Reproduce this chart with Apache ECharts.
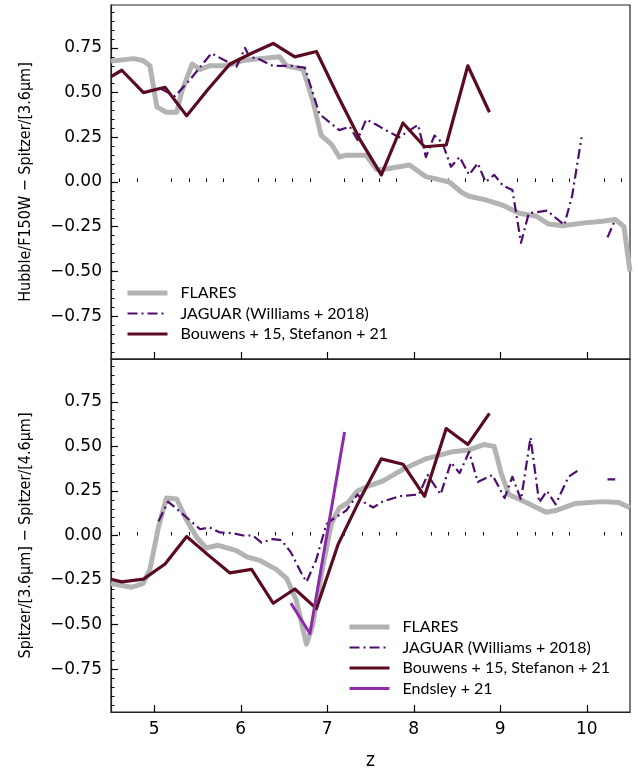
<!DOCTYPE html>
<html>
<head>
<meta charset="utf-8">
<script src="https://cdn.jsdelivr.net/npm/echarts@6/dist/echarts.min.js"></script>
<style>
html,body{margin:0;padding:0;background:#fff;}
#chart{width:638px;height:772px;}
</style>
</head>
<body>
<div id="chart"></div>
<script>
// ---------- Data ----------
const seriesNames = ['FLARES', 'JAGUAR (Williams + 2018)', 'Bouwens + 15, Stefanon + 21', 'Endsley + 21'];

// Top panel: Hubble/F150W - Spitzer/[3.6um]
const flaresTopZ = [4.5,4.76,4.87,4.95,5.03,5.14,5.26,5.32,5.44,5.53,5.64,5.84,6.03,6.22,6.45,6.53,6.72,6.83,6.93,7.05,7.14,7.22,7.45,7.57,7.64,7.95,8.14,8.41,8.56,8.64,8.83,9.03,9.22,9.41,9.56,9.72,9.95,10.18,10.33,10.43,10.5];
const flaresTopV = [0.676,0.69,0.68,0.65,0.42,0.39,0.39,0.51,0.66,0.63,0.65,0.65,0.68,0.69,0.70,0.65,0.63,0.46,0.26,0.21,0.14,0.15,0.15,0.07,0.07,0.095,0.03,0.0,-0.06,-0.08,-0.10,-0.13,-0.175,-0.19,-0.235,-0.245,-0.23,-0.22,-0.21,-0.25,-0.5];

const jaguarTopZ = [5.08,5.24,5.41,5.51,5.66,5.95,6.05,6.10,6.20,6.37,6.57,6.74,6.91,7.14,7.26,7.35,7.45,7.57,7.64,7.83,8.05,8.14,8.24,8.33,8.43,8.53,8.64,8.74,8.83,8.93,9.03,9.14,9.24,9.33,9.54,9.74,9.83,9.94,10.1,10.24,10.33];
const jaguarTopV = [0.52,0.48,0.57,0.63,0.72,0.645,0.75,0.70,0.69,0.65,0.65,0.64,0.38,0.29,0.31,0.235,0.35,0.32,0.30,0.25,0.32,0.14,0.26,0.22,0.085,0.14,0.04,0.105,0.0,0.04,-0.02,-0.045,-0.34,-0.175,-0.16,-0.24,-0.08,0.25,null,-0.31,-0.21];

const bouwensZ = [4.5,4.625,4.875,5.125,5.375,5.625,5.875,6.125,6.375,6.625,6.875,7.125,7.375,7.625,7.875,8.125,8.375,8.625,8.875];
const bouwensTopV = [0.59,0.625,0.50,0.53,0.37,0.52,0.66,0.72,0.775,0.70,0.73,0.48,0.24,0.04,0.33,0.197,0.207,0.65,0.39];

// Bottom panel: Spitzer/[3.6um] - Spitzer/[4.6um]
const flaresBotZ = [4.5,4.74,4.87,4.95,5.05,5.14,5.26,5.37,5.49,5.60,5.74,5.95,6.07,6.22,6.41,6.53,6.64,6.76,6.83,6.95,7.05,7.14,7.24,7.35,7.49,7.64,7.87,8.14,8.45,8.64,8.81,8.93,9.01,9.10,9.30,9.53,9.64,9.87,10.18,10.37,10.5];
const flaresBotV = [-0.27,-0.29,-0.27,-0.19,0.05,0.21,0.205,0.09,-0.01,-0.07,-0.055,-0.085,-0.12,-0.14,-0.19,-0.24,-0.36,-0.61,-0.505,-0.17,0.07,0.155,0.185,0.25,0.28,0.305,0.37,0.43,0.47,0.48,0.51,0.50,0.35,0.23,0.185,0.13,0.14,0.18,0.19,0.185,0.155];

const jaguarBotZ = [5.05,5.16,5.33,5.53,5.64,5.76,5.91,6.03,6.14,6.24,6.37,6.47,6.58,6.70,6.76,6.87,6.99,7.06,7.22,7.35,7.43,7.53,7.64,7.83,8.06,8.16,8.31,8.43,8.53,8.64,8.74,8.91,9.05,9.14,9.24,9.35,9.45,9.54,9.64,9.79,9.93,10.1,10.24,10.33];
const jaguarBotV = [0.08,0.19,0.12,0.035,0.045,0.017,0.013,0.0,0.0,-0.04,-0.02,-0.026,-0.095,-0.21,-0.26,-0.14,0.063,0.09,0.14,0.23,0.185,0.157,0.19,0.22,0.23,0.34,0.23,0.41,0.35,0.47,0.30,0.34,0.21,0.33,0.20,0.55,0.185,0.25,0.175,0.33,0.375,null,0.315,0.315];

const bouwensBotV = [-0.245,-0.26,-0.245,-0.16,-0.006,-0.11,-0.21,-0.19,-0.38,-0.30,-0.41,-0.05,0.2,0.43,0.40,0.22,0.60,0.51,0.685];

const endsleyZ = [6.58,6.80,7.20];
const endsleyV = [-0.38,-0.55,0.58];

// Tick labels
const xMajorTicks = [5,6,7,8,9,10];
const yMajorTicks = [-0.75,-0.5,-0.25,0,0.25,0.5,0.75];

// ---------- Helpers ----------
function pairs(zs, vs){ return zs.map((z,i)=>[z, vs[i]]); }
const xMinorTicks = [];
for (let k = 23; k <= 52; k++){ const v = Math.round(k*0.2*100)/100; if (Math.abs(v - Math.round(v)) > 1e-6) xMinorTicks.push(v); }
const yMinorTicks = [];
for (let k = -19; k <= 19; k++){ const v = Math.round(k*0.05*100)/100; if (Math.abs(v/0.25 - Math.round(v/0.25)) > 1e-6) yMinorTicks.push(v); }

function fmtY(v){ const s = Math.abs(v).toFixed(2); return v < -1e-9 ? '\u2212' + s : s; }

const colors = { flares:'#b3b3b3', jaguar:'#4d0f6e', bouwens:'#5a0b20', endsley:'#8e2bab' };
const tickFont = { fontFamily:'DejaVu Sans', fontSize:17, color:'#000' };
const titleFont = "'Liberation Sans Narrow','DejaVu Sans Condensed','Roboto Condensed',sans-serif";

const grids = [
  { left:111, right:8, top:5, height:354, show:true, borderColor:'#222', borderWidth:1.2 },
  { left:111, right:8, top:359, height:354, show:true, borderColor:'#222', borderWidth:1.2 }
];

function xAxes(gi, showLabels){
  return [
    { type:'value', gridIndex:gi, min:4.5, max:10.5, position:'bottom',
      axisLine:{show:true, onZero:false, lineStyle:{color:'#222', width:1.2}},
      axisTick:{show:true, inside:true, length:7, customValues:xMajorTicks, lineStyle:{color:'#000', width:1.2}},
      axisLabel:{show:showLabels, customValues:xMajorTicks, margin:9, ...tickFont},
      splitLine:{show:false},
      name: showLabels ? 'z' : '', nameLocation:'middle', nameGap:40,
      nameTextStyle:{fontFamily:titleFont, fontSize:19, color:'#000'} },
    { type:'value', gridIndex:gi, min:4.5, max:10.5, position:'bottom',
      axisLine:{show:false},
      axisTick:{show:true, inside:true, length:3.5, customValues:xMinorTicks, lineStyle:{color:'#000', width:1}},
      axisLabel:{show:false}, splitLine:{show:false} }
  ];
}
function yAxes(gi, title){
  return [
    { type:'value', gridIndex:gi, min:-0.99, max:0.99, position:'left',
      axisLine:{show:true, onZero:false, lineStyle:{color:'#222', width:1.2}},
      axisTick:{show:true, inside:true, length:7, customValues:yMajorTicks, lineStyle:{color:'#000', width:1.2}},
      axisLabel:{show:true, customValues:yMajorTicks, margin:9, formatter:fmtY, ...tickFont},
      splitLine:{show:false},
      name:title, nameLocation:'middle', nameGap:77,
      nameTextStyle:{fontFamily:titleFont, fontSize:16, color:'#000'} },
    { type:'value', gridIndex:gi, min:-0.99, max:0.99, position:'left',
      axisLine:{show:false},
      axisTick:{show:true, inside:true, length:3.5, customValues:yMinorTicks, lineStyle:{color:'#000', width:1}},
      axisLabel:{show:false}, splitLine:{show:false} }
  ];
}

function mk(name, data, xi, yi, style, z){
  return { name, type:'line', xAxisIndex:xi, yAxisIndex:yi, data, symbol:'none', showSymbol:false,
    connectNulls:false, clip:true, z, itemStyle:{color:style.color},
    lineStyle:Object.assign({cap:'butt', join:'round'}, style), emphasis:{disabled:true} };
}

const legendCommon = {
  orient:'vertical', padding:0, itemWidth:40, itemHeight:14, itemGap:4.5, selectedMode:false,
  itemStyle:{opacity:0}, lineStyle:{width:'inherit'},
  textStyle:{fontFamily:'Lato', fontSize:16, color:'#000', lineHeight:16, padding:[0,0,0,8]}
};

const option = {
  animation:false,
  backgroundColor:'#fff',
  grid: grids,
  xAxis: [...xAxes(0,false), ...xAxes(1,true)],
  yAxis: [...yAxes(0,'Hubble/F150W \u2212 Spitzer/[3.6\u03bcm]'), ...yAxes(1,'Spitzer/[3.6\u03bcm] \u2212 Spitzer/[4.6\u03bcm]')],
  legend: [
    Object.assign({ left:125, top:285, data: seriesNames.slice(0,3) }, legendCommon),
    Object.assign({ left:347, top:619, data: seriesNames }, legendCommon)
  ],
  series: [
    mk(seriesNames[0], pairs(flaresTopZ, flaresTopV), 0, 0, {color:colors.flares, width:5}, 2),
    mk(seriesNames[1], pairs(jaguarTopZ, jaguarTopV), 0, 0, {color:colors.jaguar, width:2.2, type:[10,4,2,4]}, 3),
    mk(seriesNames[2], pairs(bouwensZ, bouwensTopV), 0, 0, {color:colors.bouwens, width:3.2}, 4),
    mk(seriesNames[0], pairs(flaresBotZ, flaresBotV), 2, 2, {color:colors.flares, width:5}, 2),
    mk(seriesNames[1], pairs(jaguarBotZ, jaguarBotV), 2, 2, {color:colors.jaguar, width:2.2, type:[10,4,2,4]}, 3),
    mk(seriesNames[2], pairs(bouwensZ, bouwensBotV), 2, 2, {color:colors.bouwens, width:3.2}, 4),
    mk(seriesNames[3], pairs(endsleyZ, endsleyV), 2, 2, {color:colors.endsley, width:3}, 5)
  ]
};

const chart = echarts.init(document.getElementById('chart'), null, {renderer:'canvas'});
chart.setOption(option);
</script>
</body>
</html>
